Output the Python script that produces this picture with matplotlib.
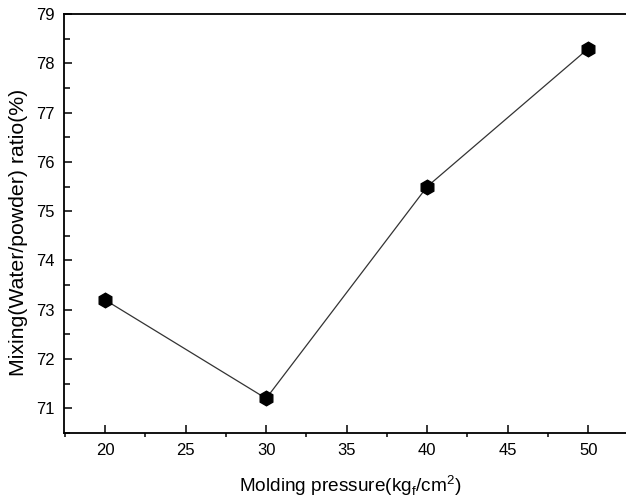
import matplotlib
matplotlib.use("Agg")
import matplotlib.pyplot as plt
from matplotlib.ticker import MultipleLocator

pressure = [20, 30, 40, 50]
mixing_ratio = [73.2, 71.2, 75.5, 78.3]

plt.rcParams["font.family"] = ["Liberation Sans", "DejaVu Sans"]

fig = plt.figure(figsize=(6.26, 4.99), dpi=100)
# right spine sits past the image edge in the original scan
ax = fig.add_axes([0.1022, 0.1313, 0.9276, 0.8405])

ax.plot(pressure, mixing_ratio, color="#333333", lw=0.9,
        marker="h", markersize=10.5, markerfacecolor="black",
        markeredgecolor="black")

ax.set_xlim(17.45, 53.5)
ax.set_ylim(70.49, 79)
ax.xaxis.set_major_locator(MultipleLocator(5))
ax.xaxis.set_minor_locator(MultipleLocator(2.5))
ax.yaxis.set_major_locator(MultipleLocator(1))
ax.yaxis.set_minor_locator(MultipleLocator(0.5))

for s in ax.spines.values():
    s.set_linewidth(1.3)
ax.spines["right"].set_visible(False)

ax.tick_params(axis="both", which="major", direction="in", length=6,
               width=1.1, labelsize=12, pad=7)
ax.tick_params(axis="y", which="minor", direction="in", length=4, width=1.1)
ax.tick_params(axis="x", which="minor", direction="out", length=3, width=1.1)

ax.set_xlabel("Molding pressure(kg$_\\mathregular{f}$/cm$^\\mathregular{2}$)",
              fontsize=13.7, va="center")
ax.set_ylabel("Mixing(Water/powder) ratio(%)", fontsize=15.3, va="center")
ax.xaxis.set_label_coords(0.4925, -0.125)
ax.yaxis.set_label_coords(-0.078, 0.48)

fig.savefig("out.png", dpi=100)
